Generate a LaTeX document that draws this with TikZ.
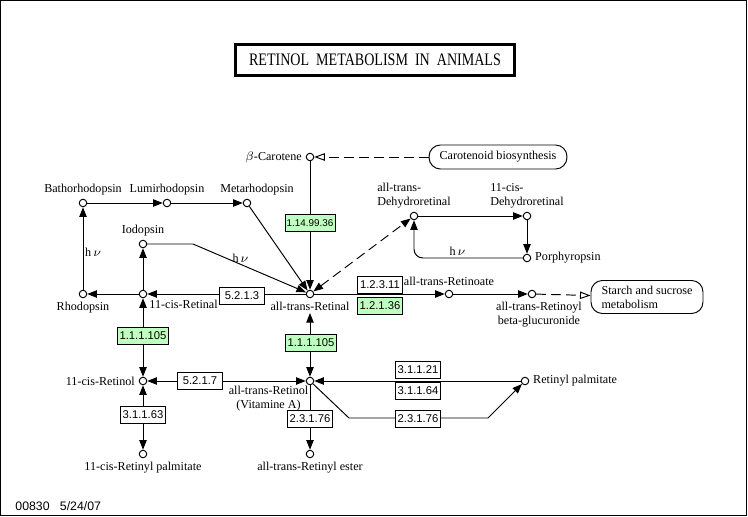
\documentclass[tikz,border=0pt]{standalone}
\usepackage{fontspec}
\setmainfont{Liberation Serif}
\newfontfamily\ecfont{Liberation Sans}
\usepackage{graphicx}
\usepackage{xcolor}
\usepackage{tikz}
\usetikzlibrary{arrows.meta, positioning}

\definecolor{ecgreen}{RGB}{191,255,191}

\begin{document}
\begin{tikzpicture}[x=0.02cm, y=-0.02cm, line width=0.55pt,
    >={Triangle[length=5.5pt,width=4.2pt]},
    cpd/.style={circle, draw, fill=white, minimum size=0.15cm, inner sep=0pt},
    lbl/.style={font=\fontsize{6.9}{8}\selectfont, inner sep=1pt},
    ec/.style={draw, fill=white, minimum width=0.9cm, minimum height=0.33cm,
        inner sep=1pt, font=\ecfont\fontsize{6.4}{7}\selectfont},
    ecg/.style={ec, fill=ecgreen},
    mapbox/.style={draw, rounded corners=6.5pt, inner xsep=6pt, inner ysep=2pt,
        font=\fontsize{6.9}{8}\selectfont},
    dsh/.style={dash pattern=on 5.5pt off 3pt},
    opentip/.style={-{Triangle[open,length=6pt,width=4.2pt]}}]

    % =================================================================
    % 0. KHUNG VA TIEU DE
    % =================================================================
    \useasboundingbox (0,0) rectangle (748,517);
    \draw (0.5,0.5) rectangle (746,515);

    \node[draw, line width=1.7pt, minimum width=5.6cm, minimum height=0.62cm,
        inner sep=0pt] (title) at (375,60)
        {\scalebox{0.8}[1]{\fontsize{10}{12}\selectfont RETINOL\ \ METABOLISM\ \ IN\ \ ANIMALS}};

    \node[anchor=west, inner sep=0pt, font=\ecfont\fontsize{7}{8}\selectfont]
        (footer) at (15,506) {00830\ \ \ 5/24/07};

    % =================================================================
    % 1. CAC CHAT (VONG TRON)
    % =================================================================
    \node[cpd] (bcar)     at (310,157) {};
    \node[cpd] (batho)    at (83,203)  {};
    \node[cpd] (lumi)     at (167,203) {};
    \node[cpd] (meta)     at (247,203) {};
    \node[cpd] (iodo)     at (143,244) {};
    \node[cpd] (rhod)     at (83,294)  {};
    \node[cpd] (cisral)   at (143,294) {};
    \node[cpd] (atral)    at (310,294) {};
    \node[cpd] (atdehyd)  at (414,216) {};
    \node[cpd] (cisdehyd) at (527,216) {};
    \node[cpd] (porph)    at (527,258) {};
    \node[cpd] (retinoat) at (449,294) {};
    \node[cpd] (gluc)     at (532,294) {};
    \node[cpd] (cisrol)   at (143,381) {};
    \node[cpd] (atrol)    at (310,381) {};
    \node[cpd] (palm)     at (525,381) {};
    \node[cpd] (cispalm)  at (143,454) {};
    \node[cpd] (ester)    at (310,454) {};

    % Cac diem gay khuc
    \coordinate (iodbend) at (193,244);
    \coordinate (estA)    at (349,418);
    \coordinate (estB)    at (488,418);

    % Ban do lien ket
    \node[mapbox, minimum width=2.72cm, minimum height=0.48cm] (carot) at (498,157)
        {Carotenoid biosynthesis};
    \node[mapbox, align=left, minimum width=2.22cm, minimum height=0.66cm] (starch)
        at (647,297) {Starch and sucrose\\metabolism};

    % =================================================================
    % 2. TEN CAC CHAT
    % =================================================================
    \node[lbl, left=1pt of bcar] (bcarL) {$\beta$-Carotene};
    \node[lbl, above=1pt of batho] (bathoL) {Bathorhodopsin};
    \node[lbl, above=1pt of lumi] (lumiL) {Lumirhodopsin};
    \node[lbl, above=1pt of meta, xshift=0.2cm] (metaL) {Metarhodopsin};
    \node[lbl, above=1pt of iodo] (iodoL) {Iodopsin};
    \node[lbl, below=1pt of rhod] (rhodL) {Rhodopsin};
    \node[lbl, right=0pt of cisral, yshift=-0.2cm] (cisralL) {11-cis-Retinal};
    \node[lbl, below=1pt of atral] (atralL) {all-trans-Retinal};
    \node[lbl, above=1pt of atdehyd, align=left] (atdehydL) {all-trans-\\Dehydroretinal};
    \node[lbl, above=1pt of cisdehyd, align=left] (cisdehydL) {11-cis-\\Dehydroretinal};
    \node[lbl, right=1pt of porph] (porphL) {Porphyropsin};
    \node[lbl, above=1pt of retinoat] (retinoatL) {all-trans-Retinoate};
    \node[lbl, below=1pt of gluc, xshift=0.14cm, align=center] (glucL)
        {all-trans-Retinoyl\\beta-glucuronide};
    \node[lbl, left=1pt of cisrol] (cisrolL) {11-cis-Retinol};
    \node[lbl, below left=0pt and -2pt of atrol, align=center] (atrolL)
        {all-trans-Retinol\\(Vitamine A)};
    \node[lbl, right=1pt of palm] (palmL) {Retinyl palmitate};
    \node[lbl, below=1pt of cispalm] (cispalmL) {11-cis-Retinyl palmitate};
    \node[lbl, below=1pt of ester] (esterL) {all-trans-Retinyl ester};

    % =================================================================
    % 3. CAC PHAN UNG
    % =================================================================
    \draw[dsh, opentip] (carot) -- (bcar);
    \draw[->] (bcar) -- (atral);

    % Chu trinh rhodopsin
    \draw[->] (batho) -- (lumi);
    \draw[->] (lumi) -- (meta);
    \draw[->] (meta) -- (atral);
    \draw[->] (rhod) -- node[lbl, right, pos=0.45] {h\,$\nu$} (batho);
    \draw[->] (cisral) -- (rhod);
    \draw[->] (cisral) -- (iodo);
    \draw[->] (iodo) -- (iodbend) -- node[lbl, above, pos=0.42] {h\,$\nu$} (atral);
    \draw[->] (atral) -- (cisral);

    % Chu trinh porphyropsin
    \draw[dsh, <->] (atral) -- (atdehyd);
    \draw[->] (atdehyd) -- (cisdehyd);
    \draw[->] (cisdehyd) -- (porph);
    \draw[->, rounded corners=5pt] (porph) -| node[lbl, above, pos=0.3] {h\,$\nu$} (atdehyd);

    % Retinoate
    \draw[->] (atral) -- (retinoat);
    \draw[->] (retinoat) -- (gluc);
    \draw[dsh, opentip] (gluc) -- (starch);

    % Retinol
    \draw[<->] (cisral) -- (cisrol);
    \draw[<->] (atrol) -- (atral |- atralL.south);
    \draw[<->] (atrol) -- (cisrol);
    \draw[->] (palm) -- (atrol);
    \draw[->] (atrol) -- (estA) -- (estB) -- (palm);
    \draw[->] (atrol) -- (ester);
    \draw[<->] (cisrol) -- (cispalm);

    % =================================================================
    % 4. CAC ENZYME
    % =================================================================
    \node[ecg, font=\ecfont\fontsize{5.6}{7}\selectfont] (e11499) at (310,223) {1.14.99.36};
    \node[ec]  (e5213)  at (242,296) {5.2.1.3};
    \node[ec]  (e12311) at (380,285) {1.2.3.11};
    \node[ecg] (e12136) at (380,306) {1.2.1.36};
    \node[ecg] (e11105a) at (143,336) {1.1.1.105};
    \node[ecg] (e11105b) at (311,343) {1.1.1.105};
    \node[ec]  (e5217)  at (200,381) {5.2.1.7};
    \node[ec]  (e31121) at (418,370) {3.1.1.21};
    \node[ec]  (e31164) at (418,391) {3.1.1.64};
    \node[ec]  (e23176a) at (310,419) {2.3.1.76};
    \node[ec]  (e23176b) at (418,419) {2.3.1.76};
    \node[ec]  (e31163) at (143,415) {3.1.1.63};

\end{tikzpicture}
\end{document}
